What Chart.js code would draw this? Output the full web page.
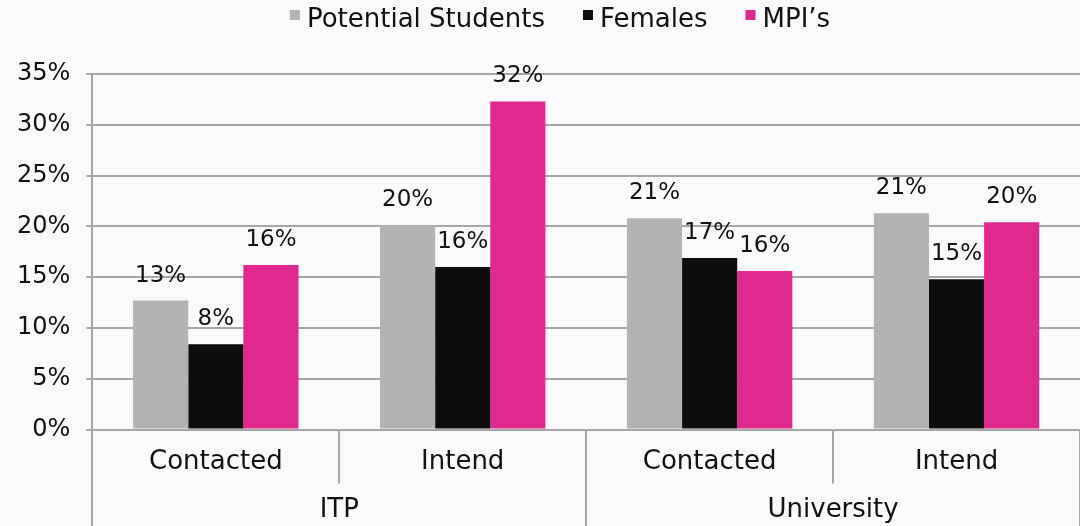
<!DOCTYPE html>
<html>
<head>
<meta charset="utf-8">
<script src="https://cdn.jsdelivr.net/npm/chart.js@4.4.0/dist/chart.umd.min.js"></script>
<style>
html, body { margin: 0; padding: 0; background: #fafafc; }
</style>
</head>
<body>
<canvas id="grafBarras" width="1080" height="526"></canvas>
<script>
// categorias do eixo X (dois niveis)
var categorias = ["Contacted", "Intend", "Contacted", "Intend"];
var grupos = ["ITP", "University"];

// series (%)
var series = ["Potential Students", "Females", "MPI\u2019s"];
var potencial = [12.7, 20.1, 20.8, 21.3];
var mulheres = [8.4, 16.0, 16.9, 14.8];
var mpis = [16.2, 32.3, 15.6, 20.4];
var cores = ["#b3b3b3", "#0d0d0d", "#e0298f"];

// eixo Y
var yMin = 0;
var yMax = 35;
var yPasso = 5;

var fonte = '"DejaVu Sans", sans-serif';
var cinza = "#a6a6a6";

/* rotulos de valor em cima das barras */
var rotulos = {
  id: "rotulos",
  afterDatasetsDraw: function(chart) {
    var ctx = chart.ctx;
    ctx.save();
    ctx.font = "23px " + fonte;
    ctx.fillStyle = "#111";
    ctx.textAlign = "center";
    ctx.textBaseline = "alphabetic";
    chart.data.datasets.forEach(function(ds, i) {
      chart.getDatasetMeta(i).data.forEach(function(barra, j) {
        ctx.fillText(Math.round(ds.data[j]) + "%", barra.x, barra.y - 19);
      });
    });
    ctx.restore();
  }
};

/* linhas verticais que separam as categorias embaixo do eixo */
var divisorias = {
  id: "divisorias",
  afterDraw: function(chart) {
    var ctx = chart.ctx;
    var eixo = chart.scales.x;
    var n = categorias.length;
    var porGrupo = n / grupos.length;
    var passo = (eixo.right - eixo.left) / n;
    ctx.save();
    ctx.strokeStyle = cinza;
    ctx.lineWidth = 2;
    for (var i = 0; i <= n; i++) {
      var px = Math.round(eixo.left + passo * i);
      var fim = (i % porGrupo === 0) ? chart.height : chart.chartArea.bottom + 54;
      ctx.beginPath();
      ctx.moveTo(px, chart.chartArea.bottom);
      ctx.lineTo(px, fim);
      ctx.stroke();
    }
    ctx.restore();
  }
};

/* legenda desenhada na mao (quadradinho + texto) */
var legenda = {
  id: "legenda",
  afterDraw: function(chart) {
    var ctx = chart.ctx;
    ctx.save();
    ctx.font = "26px " + fonte;
    ctx.textBaseline = "alphabetic";
    var caixa = 10, espaco = 7, entre = 38;
    var total = 0;
    chart.data.datasets.forEach(function(ds, i) {
      total += caixa + espaco + ctx.measureText(ds.label).width;
      if (i > 0) total += entre;
    });
    var x = chart.width / 2 + 20 - total / 2;
    chart.data.datasets.forEach(function(ds) {
      ctx.fillStyle = ds.backgroundColor;
      ctx.fillRect(x, 10, caixa, caixa);
      x += caixa + espaco;
      ctx.fillStyle = "#111";
      ctx.fillText(ds.label, x, 27);
      x += ctx.measureText(ds.label).width + entre;
    });
    ctx.restore();
  }
};

var barras = document.getElementById("grafBarras").getContext("2d");

var grafico = new Chart(barras, {
  type: "bar",
  data: {
    labels: categorias,
    datasets: [
      { label: series[0], data: potencial, backgroundColor: cores[0] },
      { label: series[1], data: mulheres, backgroundColor: cores[1] },
      { label: series[2], data: mpis, backgroundColor: cores[2] }
    ]
  },
  options: {
    responsive: false,
    animation: false,
    datasets: {
      bar: { categoryPercentage: 0.67, barPercentage: 1.0 }
    },
    layout: { padding: { left: 1, top: 74, right: 0, bottom: 0 } },
    plugins: {
      legend: { display: false },
      tooltip: { enabled: false }
    },
    scales: {
      y: {
        min: yMin,
        max: yMax,
        ticks: {
          stepSize: yPasso,
          padding: 16,
          color: "#111",
          font: { family: fonte, size: 24 },
          callback: function(v) { return v + "%"; }
        },
        grid: { color: cinza, lineWidth: 2, tickLength: 6 },
        border: { color: cinza, width: 2 }
      },
      x: {
        ticks: {
          padding: 9,
          color: "#111",
          font: { family: fonte, size: 26 }
        },
        grid: { display: false },
        border: { color: cinza, width: 2 }
      },
      x2: {
        type: "category",
        position: "bottom",
        labels: grupos,
        offset: true,
        ticks: {
          padding: 0,
          color: "#111",
          font: { family: fonte, size: 26 }
        },
        grid: { display: false },
        border: { display: false }
      }
    }
  },
  plugins: [rotulos, divisorias, legenda]
});
</script>
</body>
</html>
